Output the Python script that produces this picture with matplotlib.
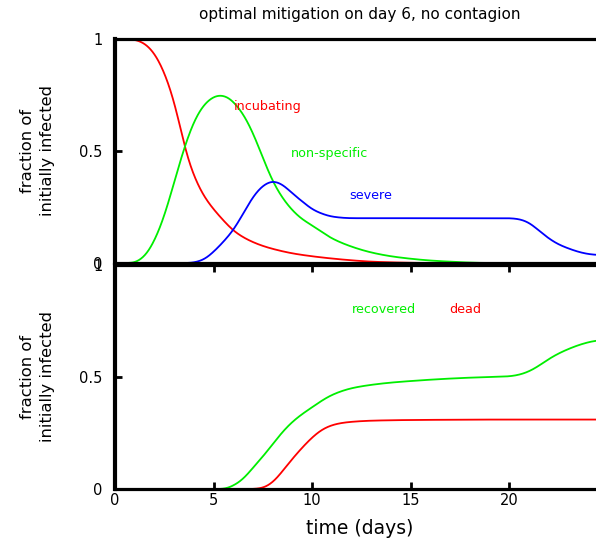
import matplotlib
matplotlib.use("Agg")
import matplotlib.pyplot as plt
import numpy as np

plt.rcParams['font.family'] = ['DejaVu Sans']

# top panel: incubating / non-specific / severe
t_inc = [0, 0.5, 1, 1.5, 2, 2.5, 3, 3.25, 3.5, 3.75, 4, 4.5, 5, 5.5, 6, 6.5, 7, 7.5, 8,
         9, 10, 11, 12, 13, 14, 15, 16, 24.4]
inc = [1.0, 1.0, 0.997, 0.98, 0.935, 0.85, 0.72, 0.63, 0.53, 0.45, 0.39, 0.3, 0.24, 0.19,
       0.145, 0.115, 0.093, 0.076, 0.063, 0.043, 0.03, 0.02, 0.012, 0.006, 0.003, 0.001,
       0.0, 0.0]

t_ns = [0, 0.9, 1.5, 2, 2.5, 3, 3.5, 4, 4.5, 5, 5.3, 5.7, 6, 6.5, 7, 7.5, 8, 8.5, 9, 9.5,
        10, 11, 12, 13, 14, 15, 16, 17, 18, 19, 24.4]
ns = [0, 0, 0.03, 0.1, 0.21, 0.36, 0.51, 0.63, 0.705, 0.742, 0.75, 0.742, 0.72, 0.665,
      0.58, 0.47, 0.365, 0.29, 0.235, 0.195, 0.168, 0.11, 0.073, 0.047, 0.03, 0.019,
      0.011, 0.006, 0.002, 0.0, 0.0]

t_sev = [0, 3.8, 4.15, 4.5, 5, 5.5, 6, 6.5, 7, 7.5, 8, 8.5, 9, 9.5, 10, 10.5, 11, 12,
         16, 20, 20.5, 21, 21.5, 22, 22.5, 23, 23.5, 24, 24.4]
sev = [0, 0, 0.005, 0.015, 0.05, 0.095, 0.147, 0.22, 0.295, 0.345, 0.366, 0.35, 0.31,
       0.275, 0.24, 0.22, 0.207, 0.2, 0.2, 0.2, 0.196, 0.18, 0.145, 0.11, 0.083, 0.065,
       0.05, 0.04, 0.036]

# bottom panel: recovered / dead
t_rec = [0, 5.5, 6, 6.5, 7, 7.5, 8, 8.5, 9, 9.5, 10, 10.5, 11, 12, 13, 14, 15, 16, 17,
         18, 19, 20, 20.5, 21, 21.5, 22, 22.5, 23, 23.5, 24, 24.4]
rec = [0, 0, 0.015, 0.045, 0.095, 0.145, 0.2, 0.255, 0.3, 0.335, 0.365, 0.395, 0.42,
       0.45, 0.465, 0.475, 0.482, 0.488, 0.493, 0.497, 0.5, 0.503, 0.51, 0.525, 0.55,
       0.58, 0.605, 0.625, 0.642, 0.655, 0.663]

t_dead = [0, 7, 7.5, 8, 8.5, 9, 9.5, 10, 10.5, 11, 11.5, 12, 13, 15, 20, 24.4]
dead = [0, 0, 0.005, 0.03, 0.08, 0.135, 0.185, 0.23, 0.265, 0.285, 0.295, 0.3, 0.305,
        0.308, 0.31, 0.31]


def pchip(tx, vy, n=1000):
    # piecewise cubic Hermite through the read-off points, just for a smooth line
    tx = np.asarray(tx, float)
    vy = np.asarray(vy, float)
    tt = np.linspace(tx[0], tx[-1], n)
    h = np.diff(tx)
    d = np.diff(vy) / h
    m = np.zeros_like(vy)
    for i in range(1, len(vy) - 1):
        if d[i - 1] * d[i] > 0:
            w1 = 2 * h[i] + h[i - 1]
            w2 = h[i] + 2 * h[i - 1]
            m[i] = (w1 + w2) / (w1 / d[i - 1] + w2 / d[i])
    m[0] = d[0]
    m[-1] = d[-1]
    idx = np.clip(np.searchsorted(tx, tt, side='right') - 1, 0, len(h) - 1)
    s = (tt - tx[idx]) / h[idx]
    yy = ((2 * s**3 - 3 * s**2 + 1) * vy[idx]
          + (s**3 - 2 * s**2 + s) * h[idx] * m[idx]
          + (-2 * s**3 + 3 * s**2) * vy[idx + 1]
          + (s**3 - s**2) * h[idx] * m[idx + 1])
    # soften the joins a bit
    step = tt[1] - tt[0]
    k = np.arange(-60, 61) * step
    g = np.exp(-0.5 * (k / 0.22) ** 2)
    g /= g.sum()
    pad = np.concatenate([np.full(60, yy[0]), yy, np.full(60, yy[-1])])
    yy = np.convolve(pad, g, mode='valid')
    return tt, yy


RED, GREEN, BLUE = '#ff0000', '#00ee00', '#0000ff'

fig = plt.figure(figsize=(5.96, 5.42), dpi=100)
ax1 = fig.add_axes([115 / 596, 1 - 263 / 542, 1 - 115 / 596, 224 / 542])
ax2 = fig.add_axes([115 / 596, 1 - 489 / 542, 1 - 115 / 596, 224 / 542])

for ax in (ax1, ax2):
    ax.set_xlim(0, 24.4)
    ax.set_ylim(0, 1)
    ax.spines['left'].set_linewidth(3.0)
    ax.spines['top'].set_linewidth(2.3)
    ax.spines['bottom'].set_linewidth(2.3)
    ax.spines['right'].set_visible(False)
    ax.set_yticks([0, 0.5, 1])
    ax.set_yticklabels(['0', '0.5', '1'])
    ax.set_xticks([0, 5, 10, 15, 20])
    ax.tick_params(direction='in', length=5, width=2.0, labelsize=10.5, pad=3)
    ax.tick_params(axis='y', pad=9)
    ax.set_ylabel('fraction of\ninitially infected', fontsize=11.8, linespacing=1.4)
    ax.yaxis.set_label_coords(-0.125, 0.5)

ax1.tick_params(axis='x', bottom=False, labelbottom=False)
ax2.tick_params(axis='x', top=True)
ax2.set_xticklabels(['0', '5', '10', '15', '20'])
ax2.set_xlabel('time (days)', fontsize=13.5)
ax2.xaxis.set_label_coords(0.509, -0.135)

for tx, vy, c in ((t_inc, inc, RED), (t_ns, ns, GREEN), (t_sev, sev, BLUE)):
    ax1.plot(*pchip(tx, vy), color=c, lw=1.3)
for tx, vy, c in ((t_rec, rec, GREEN), (t_dead, dead, RED)):
    ax2.plot(*pchip(tx, vy), color=c, lw=1.3)

ax1.text(6.0, 0.70, 'incubating', color=RED, fontsize=9.2, va='center')
ax1.text(8.9, 0.49, 'non-specific', color=GREEN, fontsize=9.2, va='center')
ax1.text(11.9, 0.30, 'severe', color=BLUE, fontsize=9.2, va='center')
ax2.text(12.0, 0.80, 'recovered', color=GREEN, fontsize=9.2, va='center')
ax2.text(16.95, 0.80, 'dead', color=RED, fontsize=9.2, va='center')

fig.text(360 / 596, 1 - 15 / 542, 'optimal mitigation on day 6, no contagion',
         ha='center', va='center', fontsize=11)

fig.savefig('out.png', dpi=100)
